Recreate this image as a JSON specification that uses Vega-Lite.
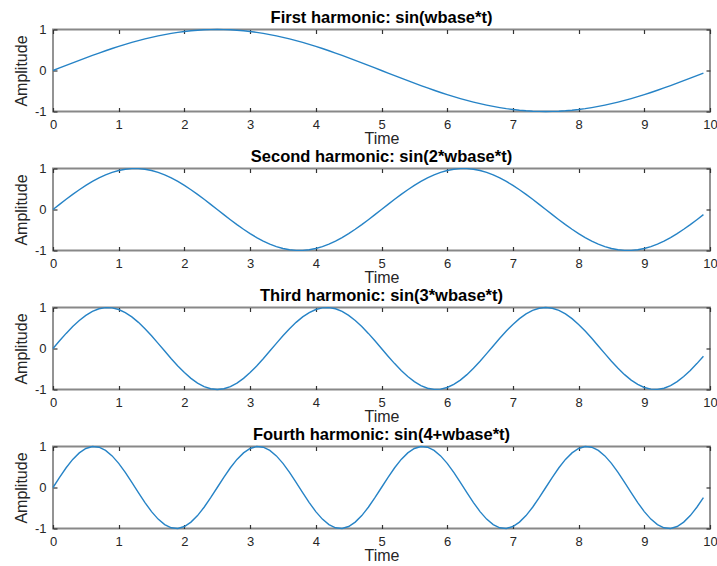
{
  "$schema": "https://vega.github.io/schema/vega-lite/v6.json",
  "background": "white",
  "padding": {"left": 12, "top": 8.5, "right": 0, "bottom": 0},
  "bounds": "flush",
  "spacing": 57,
  "config": {
    "font": "Liberation Sans",
    "view": {"stroke": "#888888", "strokeWidth": 1.8},
    "axis": {
      "grid": false, "domain": false, "tickSize": -4, "tickColor": "#333333", "tickWidth": 1.2,
      "labelFontSize": 13, "labelColor": "#262626", "labelFlush": false, "labelOverlap": false,
      "titleFontSize": 16, "titleFontWeight": "normal", "titleColor": "#262626"
    },
    "title": {"fontSize": 16.5, "fontWeight": "bold", "color": "#000000", "offset": -2.5}
  },
  "datasets": {
    "waves": [
      {"t":0,"first":0,"second":0,"third":0,"fourth":0},
      {"t":0.1,"first":0.0628,"second":0.1253,"third":0.1874,"fourth":0.2487},
      {"t":0.2,"first":0.1253,"second":0.2487,"third":0.3681,"fourth":0.4818},
      {"t":0.3,"first":0.1874,"second":0.3681,"third":0.5358,"fourth":0.6845},
      {"t":0.4,"first":0.2487,"second":0.4818,"third":0.6845,"fourth":0.8443},
      {"t":0.5,"first":0.309,"second":0.5878,"third":0.809,"fourth":0.9511},
      {"t":0.6,"first":0.3681,"second":0.6845,"third":0.9048,"fourth":0.998},
      {"t":0.7,"first":0.4258,"second":0.7705,"third":0.9686,"fourth":0.9823},
      {"t":0.8,"first":0.4818,"second":0.8443,"third":0.998,"fourth":0.9048},
      {"t":0.9,"first":0.5358,"second":0.9048,"third":0.9921,"fourth":0.7705},
      {"t":1.0,"first":0.5878,"second":0.9511,"third":0.9511,"fourth":0.5878},
      {"t":1.1,"first":0.6374,"second":0.9823,"third":0.8763,"fourth":0.3681},
      {"t":1.2,"first":0.6845,"second":0.998,"third":0.7705,"fourth":0.1253},
      {"t":1.3,"first":0.729,"second":0.998,"third":0.6374,"fourth":-0.1253},
      {"t":1.4,"first":0.7705,"second":0.9823,"third":0.4818,"fourth":-0.3681},
      {"t":1.5,"first":0.809,"second":0.9511,"third":0.309,"fourth":-0.5878},
      {"t":1.6,"first":0.8443,"second":0.9048,"third":0.1253,"fourth":-0.7705},
      {"t":1.7,"first":0.8763,"second":0.8443,"third":-0.0628,"fourth":-0.9048},
      {"t":1.8,"first":0.9048,"second":0.7705,"third":-0.2487,"fourth":-0.9823},
      {"t":1.9,"first":0.9298,"second":0.6845,"third":-0.4258,"fourth":-0.998},
      {"t":2.0,"first":0.9511,"second":0.5878,"third":-0.5878,"fourth":-0.9511},
      {"t":2.1,"first":0.9686,"second":0.4818,"third":-0.729,"fourth":-0.8443},
      {"t":2.2,"first":0.9823,"second":0.3681,"third":-0.8443,"fourth":-0.6845},
      {"t":2.3,"first":0.9921,"second":0.2487,"third":-0.9298,"fourth":-0.4818},
      {"t":2.4,"first":0.998,"second":0.1253,"third":-0.9823,"fourth":-0.2487},
      {"t":2.5,"first":1,"second":0,"third":-1,"fourth":0},
      {"t":2.6,"first":0.998,"second":-0.1253,"third":-0.9823,"fourth":0.2487},
      {"t":2.7,"first":0.9921,"second":-0.2487,"third":-0.9298,"fourth":0.4818},
      {"t":2.8,"first":0.9823,"second":-0.3681,"third":-0.8443,"fourth":0.6845},
      {"t":2.9,"first":0.9686,"second":-0.4818,"third":-0.729,"fourth":0.8443},
      {"t":3.0,"first":0.9511,"second":-0.5878,"third":-0.5878,"fourth":0.9511},
      {"t":3.1,"first":0.9298,"second":-0.6845,"third":-0.4258,"fourth":0.998},
      {"t":3.2,"first":0.9048,"second":-0.7705,"third":-0.2487,"fourth":0.9823},
      {"t":3.3,"first":0.8763,"second":-0.8443,"third":-0.0628,"fourth":0.9048},
      {"t":3.4,"first":0.8443,"second":-0.9048,"third":0.1253,"fourth":0.7705},
      {"t":3.5,"first":0.809,"second":-0.9511,"third":0.309,"fourth":0.5878},
      {"t":3.6,"first":0.7705,"second":-0.9823,"third":0.4818,"fourth":0.3681},
      {"t":3.7,"first":0.729,"second":-0.998,"third":0.6374,"fourth":0.1253},
      {"t":3.8,"first":0.6845,"second":-0.998,"third":0.7705,"fourth":-0.1253},
      {"t":3.9,"first":0.6374,"second":-0.9823,"third":0.8763,"fourth":-0.3681},
      {"t":4.0,"first":0.5878,"second":-0.9511,"third":0.9511,"fourth":-0.5878},
      {"t":4.1,"first":0.5358,"second":-0.9048,"third":0.9921,"fourth":-0.7705},
      {"t":4.2,"first":0.4818,"second":-0.8443,"third":0.998,"fourth":-0.9048},
      {"t":4.3,"first":0.4258,"second":-0.7705,"third":0.9686,"fourth":-0.9823},
      {"t":4.4,"first":0.3681,"second":-0.6845,"third":0.9048,"fourth":-0.998},
      {"t":4.5,"first":0.309,"second":-0.5878,"third":0.809,"fourth":-0.9511},
      {"t":4.6,"first":0.2487,"second":-0.4818,"third":0.6845,"fourth":-0.8443},
      {"t":4.7,"first":0.1874,"second":-0.3681,"third":0.5358,"fourth":-0.6845},
      {"t":4.8,"first":0.1253,"second":-0.2487,"third":0.3681,"fourth":-0.4818},
      {"t":4.9,"first":0.0628,"second":-0.1253,"third":0.1874,"fourth":-0.2487},
      {"t":5.0,"first":0,"second":0,"third":0,"fourth":0},
      {"t":5.1,"first":-0.0628,"second":0.1253,"third":-0.1874,"fourth":0.2487},
      {"t":5.2,"first":-0.1253,"second":0.2487,"third":-0.3681,"fourth":0.4818},
      {"t":5.3,"first":-0.1874,"second":0.3681,"third":-0.5358,"fourth":0.6845},
      {"t":5.4,"first":-0.2487,"second":0.4818,"third":-0.6845,"fourth":0.8443},
      {"t":5.5,"first":-0.309,"second":0.5878,"third":-0.809,"fourth":0.9511},
      {"t":5.6,"first":-0.3681,"second":0.6845,"third":-0.9048,"fourth":0.998},
      {"t":5.7,"first":-0.4258,"second":0.7705,"third":-0.9686,"fourth":0.9823},
      {"t":5.8,"first":-0.4818,"second":0.8443,"third":-0.998,"fourth":0.9048},
      {"t":5.9,"first":-0.5358,"second":0.9048,"third":-0.9921,"fourth":0.7705},
      {"t":6.0,"first":-0.5878,"second":0.9511,"third":-0.9511,"fourth":0.5878},
      {"t":6.1,"first":-0.6374,"second":0.9823,"third":-0.8763,"fourth":0.3681},
      {"t":6.2,"first":-0.6845,"second":0.998,"third":-0.7705,"fourth":0.1253},
      {"t":6.3,"first":-0.729,"second":0.998,"third":-0.6374,"fourth":-0.1253},
      {"t":6.4,"first":-0.7705,"second":0.9823,"third":-0.4818,"fourth":-0.3681},
      {"t":6.5,"first":-0.809,"second":0.9511,"third":-0.309,"fourth":-0.5878},
      {"t":6.6,"first":-0.8443,"second":0.9048,"third":-0.1253,"fourth":-0.7705},
      {"t":6.7,"first":-0.8763,"second":0.8443,"third":0.0628,"fourth":-0.9048},
      {"t":6.8,"first":-0.9048,"second":0.7705,"third":0.2487,"fourth":-0.9823},
      {"t":6.9,"first":-0.9298,"second":0.6845,"third":0.4258,"fourth":-0.998},
      {"t":7.0,"first":-0.9511,"second":0.5878,"third":0.5878,"fourth":-0.9511},
      {"t":7.1,"first":-0.9686,"second":0.4818,"third":0.729,"fourth":-0.8443},
      {"t":7.2,"first":-0.9823,"second":0.3681,"third":0.8443,"fourth":-0.6845},
      {"t":7.3,"first":-0.9921,"second":0.2487,"third":0.9298,"fourth":-0.4818},
      {"t":7.4,"first":-0.998,"second":0.1253,"third":0.9823,"fourth":-0.2487},
      {"t":7.5,"first":-1,"second":0,"third":1,"fourth":0},
      {"t":7.6,"first":-0.998,"second":-0.1253,"third":0.9823,"fourth":0.2487},
      {"t":7.7,"first":-0.9921,"second":-0.2487,"third":0.9298,"fourth":0.4818},
      {"t":7.8,"first":-0.9823,"second":-0.3681,"third":0.8443,"fourth":0.6845},
      {"t":7.9,"first":-0.9686,"second":-0.4818,"third":0.729,"fourth":0.8443},
      {"t":8.0,"first":-0.9511,"second":-0.5878,"third":0.5878,"fourth":0.9511},
      {"t":8.1,"first":-0.9298,"second":-0.6845,"third":0.4258,"fourth":0.998},
      {"t":8.2,"first":-0.9048,"second":-0.7705,"third":0.2487,"fourth":0.9823},
      {"t":8.3,"first":-0.8763,"second":-0.8443,"third":0.0628,"fourth":0.9048},
      {"t":8.4,"first":-0.8443,"second":-0.9048,"third":-0.1253,"fourth":0.7705},
      {"t":8.5,"first":-0.809,"second":-0.9511,"third":-0.309,"fourth":0.5878},
      {"t":8.6,"first":-0.7705,"second":-0.9823,"third":-0.4818,"fourth":0.3681},
      {"t":8.7,"first":-0.729,"second":-0.998,"third":-0.6374,"fourth":0.1253},
      {"t":8.8,"first":-0.6845,"second":-0.998,"third":-0.7705,"fourth":-0.1253},
      {"t":8.9,"first":-0.6374,"second":-0.9823,"third":-0.8763,"fourth":-0.3681},
      {"t":9.0,"first":-0.5878,"second":-0.9511,"third":-0.9511,"fourth":-0.5878},
      {"t":9.1,"first":-0.5358,"second":-0.9048,"third":-0.9921,"fourth":-0.7705},
      {"t":9.2,"first":-0.4818,"second":-0.8443,"third":-0.998,"fourth":-0.9048},
      {"t":9.3,"first":-0.4258,"second":-0.7705,"third":-0.9686,"fourth":-0.9823},
      {"t":9.4,"first":-0.3681,"second":-0.6845,"third":-0.9048,"fourth":-0.998},
      {"t":9.5,"first":-0.309,"second":-0.5878,"third":-0.809,"fourth":-0.9511},
      {"t":9.6,"first":-0.2487,"second":-0.4818,"third":-0.6845,"fourth":-0.8443},
      {"t":9.7,"first":-0.1874,"second":-0.3681,"third":-0.5358,"fourth":-0.6845},
      {"t":9.8,"first":-0.1253,"second":-0.2487,"third":-0.3681,"fourth":-0.4818},
      {"t":9.9,"first":-0.0628,"second":-0.1253,"third":-0.1874,"fourth":-0.2487}
    ]
  },
  "vconcat": [
    {
      "width": 657, "height": 82,
      "title": "First harmonic: sin(wbase*t)",
      "data": {"name": "waves"},
      "layer": [
        {"mark": {"type": "line", "color": "#2683C6", "strokeWidth": 1.4},
         "encoding": {
           "x": {"field": "t", "type": "quantitative", "scale": {"domain": [0, 10], "nice": false},
                 "axis": {"orient": "bottom", "values": [0,1,2,3,4,5,6,7,8,9,10], "labelExpr": "'' + datum.value", "labelOverlap": false, "title": "Time", "labelPadding": 11, "titlePadding": -1}},
           "y": {"field": "first", "type": "quantitative", "scale": {"domain": [-1, 1], "nice": false},
                 "axis": {"orient": "left", "values": [-1,0,1], "labelExpr": "'' + datum.value", "labelOverlap": false, "title": "Amplitude", "labelPadding": 11, "titlePadding": 5}}}},
        {"mark": {"type": "line", "opacity": 0},
         "encoding": {
           "x": {"field": "t", "type": "quantitative", "axis": {"orient": "top", "values": [0,1,2,3,4,5,6,7,8,9,10], "labels": false, "title": null}},
           "y": {"field": "first", "type": "quantitative", "axis": {"orient": "right", "values": [-1,0,1], "labels": false, "title": null}}}}
      ],
      "resolve": {"axis": {"x": "independent", "y": "independent"}}
    },
    {
      "width": 657, "height": 82,
      "title": "Second harmonic: sin(2*wbase*t)",
      "data": {"name": "waves"},
      "layer": [
        {"mark": {"type": "line", "color": "#2683C6", "strokeWidth": 1.4},
         "encoding": {
           "x": {"field": "t", "type": "quantitative", "scale": {"domain": [0, 10], "nice": false},
                 "axis": {"orient": "bottom", "values": [0,1,2,3,4,5,6,7,8,9,10], "labelExpr": "'' + datum.value", "labelOverlap": false, "title": "Time", "labelPadding": 11, "titlePadding": -1}},
           "y": {"field": "second", "type": "quantitative", "scale": {"domain": [-1, 1], "nice": false},
                 "axis": {"orient": "left", "values": [-1,0,1], "labelExpr": "'' + datum.value", "labelOverlap": false, "title": "Amplitude", "labelPadding": 11, "titlePadding": 5}}}},
        {"mark": {"type": "line", "opacity": 0},
         "encoding": {
           "x": {"field": "t", "type": "quantitative", "axis": {"orient": "top", "values": [0,1,2,3,4,5,6,7,8,9,10], "labels": false, "title": null}},
           "y": {"field": "second", "type": "quantitative", "axis": {"orient": "right", "values": [-1,0,1], "labels": false, "title": null}}}}
      ],
      "resolve": {"axis": {"x": "independent", "y": "independent"}}
    },
    {
      "width": 657, "height": 82,
      "title": "Third harmonic: sin(3*wbase*t)",
      "data": {"name": "waves"},
      "layer": [
        {"mark": {"type": "line", "color": "#2683C6", "strokeWidth": 1.4},
         "encoding": {
           "x": {"field": "t", "type": "quantitative", "scale": {"domain": [0, 10], "nice": false},
                 "axis": {"orient": "bottom", "values": [0,1,2,3,4,5,6,7,8,9,10], "labelExpr": "'' + datum.value", "labelOverlap": false, "title": "Time", "labelPadding": 11, "titlePadding": -1}},
           "y": {"field": "third", "type": "quantitative", "scale": {"domain": [-1, 1], "nice": false},
                 "axis": {"orient": "left", "values": [-1,0,1], "labelExpr": "'' + datum.value", "labelOverlap": false, "title": "Amplitude", "labelPadding": 11, "titlePadding": 5}}}},
        {"mark": {"type": "line", "opacity": 0},
         "encoding": {
           "x": {"field": "t", "type": "quantitative", "axis": {"orient": "top", "values": [0,1,2,3,4,5,6,7,8,9,10], "labels": false, "title": null}},
           "y": {"field": "third", "type": "quantitative", "axis": {"orient": "right", "values": [-1,0,1], "labels": false, "title": null}}}}
      ],
      "resolve": {"axis": {"x": "independent", "y": "independent"}}
    },
    {
      "width": 657, "height": 82,
      "title": "Fourth harmonic: sin(4+wbase*t)",
      "data": {"name": "waves"},
      "layer": [
        {"mark": {"type": "line", "color": "#2683C6", "strokeWidth": 1.4},
         "encoding": {
           "x": {"field": "t", "type": "quantitative", "scale": {"domain": [0, 10], "nice": false},
                 "axis": {"orient": "bottom", "values": [0,1,2,3,4,5,6,7,8,9,10], "labelExpr": "'' + datum.value", "labelOverlap": false, "title": "Time", "labelPadding": 11, "titlePadding": -1}},
           "y": {"field": "fourth", "type": "quantitative", "scale": {"domain": [-1, 1], "nice": false},
                 "axis": {"orient": "left", "values": [-1,0,1], "labelExpr": "'' + datum.value", "labelOverlap": false, "title": "Amplitude", "labelPadding": 11, "titlePadding": 5}}}},
        {"mark": {"type": "line", "opacity": 0},
         "encoding": {
           "x": {"field": "t", "type": "quantitative", "axis": {"orient": "top", "values": [0,1,2,3,4,5,6,7,8,9,10], "labels": false, "title": null}},
           "y": {"field": "fourth", "type": "quantitative", "axis": {"orient": "right", "values": [-1,0,1], "labels": false, "title": null}}}}
      ],
      "resolve": {"axis": {"x": "independent", "y": "independent"}}
    }
  ]
}
